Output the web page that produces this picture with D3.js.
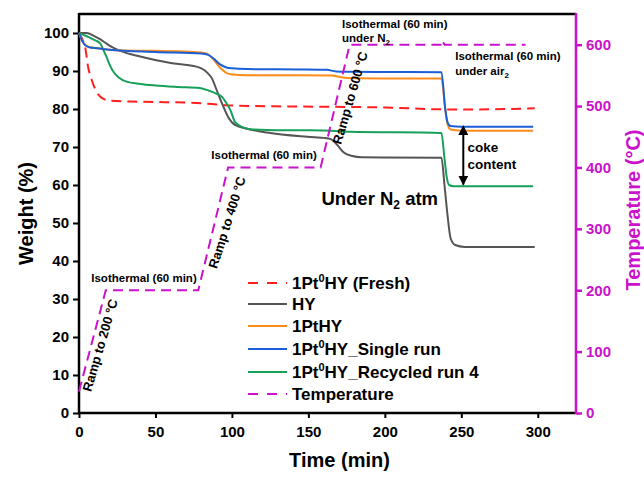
<!DOCTYPE html>
<html><head><meta charset="utf-8">
<script src="https://cdn.jsdelivr.net/npm/d3@7"></script>
<style>
body{margin:0;background:#fff;}
text{font-family:"Liberation Sans",Arial,sans-serif;}
</style></head>
<body><svg id="c" width="644" height="478"></svg>
<script>
// ---- data (time in min, weight in %, temperature in °C) ----
const fresh = [[0,100],[2,98.5],[4,96.3],[6,91],[8,88],[9.5,86.3],[12,84.2],[14,83.2],[17,82.5],[20,82.2],[40,81.9],[70,81.7],[80,81.5],[90,81.2],[100,80.9],[130,80.7],[160,80.6],[200,80.4],[240,79.9],[260,79.9],[280,80],[298,80.2]];
const hy = [[0,100],[5,100],[10,99.2],[14,98.3],[18,97.2],[22,96.2],[27,95.3],[40,93.8],[60,92.1],[72,91.5],[80,90.7],[84,89.5],[87,88],[90,85],[94,81],[97.5,77.9],[102,75.8],[110,74.8],[123,73.8],[145,72.8],[160,72.4],[165,72],[169,70.5],[173,68.6],[178,67.7],[185,67.3],[237,67.2],[239,60],[241,52],[243,46],[246,44.2],[252,43.7],[298,43.7]];
const ptHY = [[0,100],[2,98],[4,96.9],[7,96.3],[12,96],[20,95.6],[30,95.4],[50,95.3],[80,94.9],[84,94.5],[88,93],[92,91],[96,89.6],[100,89.1],[110,88.9],[145,88.9],[165,88.8],[172,88.3],[180,88.1],[237,88],[239.5,80],[241,76],[243,74.6],[250,74.3],[297,74.3]];
const single = [[0,100],[2,98],[4,96.8],[7,96.2],[12,96],[20,95.6],[50,95],[80,94.6],[84,94.3],[88,93.3],[92,91.8],[96,91],[100,90.7],[110,90.5],[145,90.4],[162,90.3],[168,89.9],[175,89.8],[237,89.7],[239.5,80],[241,76.5],[243,75.5],[250,75.3],[297,75.3]];
const recycled = [[0,100],[3,99.5],[7,98.8],[11,98],[14,97.2],[16,95.5],[18,93.7],[20,91.7],[22.5,89.8],[26,88.3],[31,87.2],[40,86.6],[50,86.2],[65,85.8],[79,85.5],[85,84.8],[90,84],[93.5,83.2],[96,81.8],[99,79.7],[102,76.6],[106.5,75.3],[112,74.7],[123,74.5],[145,74.4],[165,74.3],[177,74],[237,73.7],[239,67],[240.5,62],[242,60],[245,59.7],[297,59.7]];
const temperature = [[0,35],[17.5,200],[78,200],[97.5,400],[158,400],[177,600],[236.5,600],[237.5,607],[239,600],[292,600]];

const xTicks = [0,50,100,150,200,250,300];
const yTicks = [0,10,20,30,40,50,60,70,80,90,100];
const tTicks = [0,100,200,300,400,500,600];

// legend labels: [before superscript, superscript, after]
const seriesNames = [["1Pt","0","HY (Fresh)"],["HY","",""],["1PtHY","",""],["1Pt","0","HY_Single run"],["1Pt","0","HY_Recycled run 4"],["Temperature","",""]];
const seriesColors = ["#ff1f1f","#555555","#ff8c1a","#1a5fd8","#17a05a","#cc11cc"];

// ---- layout ----
const L=79, R=576, T=14, B=413;
const MAG = "#cc11cc";
const svg = d3.select("#c");
const x = d3.scaleLinear().domain([0,325]).range([L,R]);
const y = d3.scaleLinear().domain([0,105]).range([B,T]);
const yT = d3.scaleLinear().domain([0,650]).range([B,T]);

const fs = "15px";
const gx = svg.append("g").attr("transform",`translate(0,${B})`)
  .call(d3.axisBottom(x).tickValues(xTicks).tickSize(5).tickPadding(8));
const gy = svg.append("g").attr("transform",`translate(${L},0)`)
  .call(d3.axisLeft(y).tickValues(yTicks).tickSize(6).tickPadding(4));
const gr = svg.append("g").attr("transform",`translate(${R},0)`)
  .call(d3.axisRight(yT).tickValues(tTicks).tickSize(6).tickPadding(4));
[gx,gy].forEach(g=>{
  g.selectAll("text").attr("font-size",fs).attr("font-weight","bold").attr("fill","#000").style("font-family","Liberation Sans, Arial");
  g.selectAll("line").attr("stroke","#000").attr("stroke-width",2);
  g.select(".domain").remove();
});
gr.selectAll("text").attr("font-size",fs).attr("font-weight","bold").attr("fill",MAG).style("font-family","Liberation Sans, Arial");
gr.selectAll("line").attr("stroke",MAG).attr("stroke-width",2.5);
gr.select(".domain").remove();
svg.append("line").attr("x1",L).attr("x2",R).attr("y1",T).attr("y2",T).attr("stroke","#000").attr("stroke-width",2.5);
svg.append("line").attr("x1",L-1).attr("x2",R).attr("y1",B).attr("y2",B).attr("stroke","#000").attr("stroke-width",2.5);
svg.append("line").attr("x1",L).attr("x2",L).attr("y1",T-1).attr("y2",B+1).attr("stroke","#000").attr("stroke-width",2.5);
svg.append("line").attr("x1",R).attr("x2",R).attr("y1",T-1).attr("y2",B+1).attr("stroke",MAG).attr("stroke-width",2.5);

// weight curves
const line = d3.line().x(d=>x(d[0])).y(d=>y(d[1])).curve(d3.curveMonotoneX);
const data = [fresh,hy,ptHY,single,recycled];
[hy,fresh,recycled,ptHY,single].forEach(s=>{
  const i = data.indexOf(s);
  svg.append("path").datum(s).attr("d",line).attr("fill","none")
    .attr("stroke",seriesColors[i]).attr("stroke-width",2)
    .attr("stroke-dasharray", i===0 ? "10,6" : null);
});
const tline = d3.line().x(d=>x(d[0])).y(d=>yT(d[1]));
svg.append("path").datum(temperature).attr("d",tline).attr("fill","none")
  .attr("stroke",MAG).attr("stroke-width",2).attr("stroke-dasharray","10,6");

// annotations
function txt(xp,yp,s,size,opts={}){
  const t = svg.append("text").attr("x",xp).attr("y",yp).attr("font-size",size)
    .attr("font-weight",opts.weight||"bold").attr("fill",opts.fill||"#000")
    .attr("text-anchor",opts.anchor||"start");
  if(opts.rot!==undefined){t.attr("transform",`rotate(${opts.rot},${xp},${yp})`).attr("dominant-baseline","middle");}
  t.html(s);
  return t;
}
txt(x(42.5),yT(213),"Isothermal (60 min)","11.5px",{anchor:"middle"});
txt(x(121),yT(413),"Isothermal (60 min)","11.5px",{anchor:"middle"});
txt(x(172),yT(627),"Isothermal (60 min)","11.5px");
txt(x(172),yT(604),"under N<tspan font-size='8px' dy='3'>2</tspan>","11.5px");
txt(x(246),yT(575),"Isothermal (60 min)","11.5px");
txt(x(246),yT(551),"under air<tspan font-size='8px' dy='3'>2</tspan>","11.5px");
txt(x(14.5),yT(110),"Ramp to 200 °C","13px",{anchor:"middle",rot:-73.6});
txt(x(97.5),yT(310),"Ramp to 400 °C","13px",{anchor:"middle",rot:-72.3});
txt(x(178),yT(513),"Ramp to 600 °C","13px",{anchor:"middle",rot:-73.6});
txt(x(254),y(68.8),"coke","13.5px");
txt(x(254),y(64.3),"content","13.5px");
txt(x(158.5),y(54.8),"Under N<tspan font-size='12px' dy='4'>2</tspan><tspan dy='-4'> atm</tspan>","18.5px");

const defs = svg.append("defs");
["s","e"].forEach(k=>{
  defs.append("marker").attr("id","ar"+k).attr("viewBox","0 0 10 10").attr("refX",k==="e"?9:1).attr("refY",5)
    .attr("markerWidth",5).attr("markerHeight",5).attr("orient","auto-start-reverse")
    .append("path").attr("d","M0,0 L10,5 L0,10 z").attr("fill","#000");
});
svg.append("line").attr("x1",x(251.3)).attr("x2",x(251.3)).attr("y1",y(73.4)).attr("y2",y(60.1))
  .attr("stroke","#000").attr("stroke-width",2)
  .attr("marker-start","url(#ars)").attr("marker-end","url(#are)");

// legend
const legY = [283,304,326,349,372,394];
seriesNames.forEach((n,i)=>{
  const g = svg.append("g");
  g.append("line").attr("x1",248).attr("x2",287).attr("y1",legY[i]).attr("y2",legY[i])
    .attr("stroke",seriesColors[i]).attr("stroke-width",2)
    .attr("stroke-dasharray",(i===0||i===5)?"10,9":null);
  const t = g.append("text").attr("x",292).attr("y",legY[i]+6).attr("font-size","17px").attr("font-weight","bold").attr("fill","#000");
  t.append("tspan").text(n[0]);
  if(n[1]){
    t.append("tspan").attr("dy",-7).attr("font-size","11px").text(n[1]);
    t.append("tspan").attr("dy",7).text(n[2]);
  }
});

// axis titles
svg.append("text").attr("x",(L+R)/2+12).attr("y",467).attr("text-anchor","middle").attr("font-size","20px").attr("font-weight","bold").text("Time (min)");
svg.append("text").attr("transform",`translate(33,${(T+B)/2}) rotate(-90)`).attr("text-anchor","middle").attr("font-size","20px").attr("font-weight","bold").text("Weight (%)");
svg.append("text").attr("transform",`translate(640,210) rotate(-90)`).attr("text-anchor","middle").attr("font-size","20px").attr("font-weight","bold").attr("fill",MAG).text("Temperature (°C)");
</script></body></html>
